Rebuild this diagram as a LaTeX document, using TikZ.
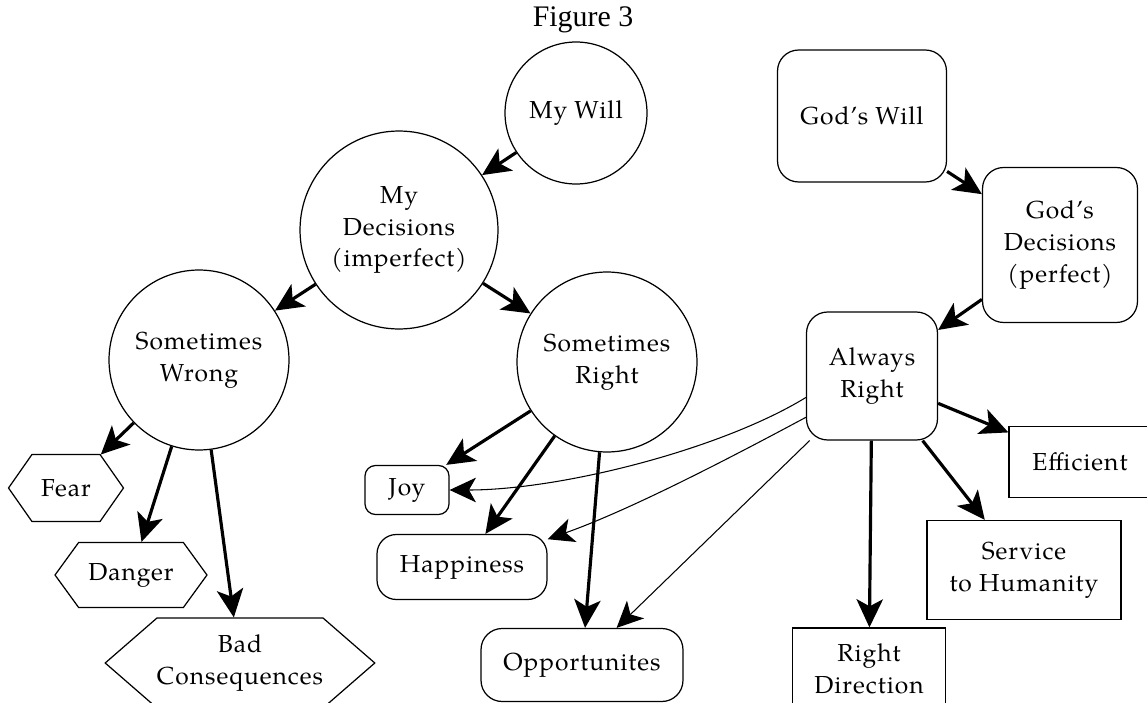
\documentclass[tikz,border=0pt]{standalone}
\usepackage{fontspec}
\setmainfont{TeX Gyre Pagella}[LetterSpace=4]
\newfontfamily\titlefont{Liberation Serif}
\usepackage{tikz}
\usetikzlibrary{arrows.meta, shapes.geometric, shapes.symbols, calc}

\begin{document}
\begin{tikzpicture}[x=0.02cm, y=-0.02cm,
  every node/.style={font=\fontsize{14}{18}\selectfont, align=center},
  wheel/.style={circle, draw, line width=0.7pt, inner sep=0pt},
  roundbox/.style={rectangle, draw, line width=0.7pt, rounded corners=#1, inner sep=0pt},
  roundbox/.default=10pt,
  plainbox/.style={rectangle, draw, line width=0.7pt, inner sep=0pt},
  hexbox/.style={signal, signal to=west and east, signal pointer angle=#1,
    draw, line width=0.7pt, inner sep=0pt},
  boldarrow/.style={-{Stealth[length=16pt, width=15pt, inset=4pt]}, line width=1.8pt},
  lightarrow/.style={-{Stealth[length=15pt, width=14pt, inset=4pt]}, line width=0.6pt}]

  \useasboundingbox (0,0) rectangle (1147,703);

  % Title
  \node[font=\titlefont\fontsize{17}{20}\selectfont] (title) at (583,20) {Figure 3};

  % My side (circles)
  \node[wheel, minimum size=2.84cm] (mywill) at (576,113) {My Will};
  \node[wheel, minimum size=3.96cm] (mydec) at (399,230) {My\\Decisions\\(imperfect)};
  \node[wheel, minimum size=3.6cm] (wrong) at (199,360) {Sometimes\\Wrong};
  \node[wheel, minimum size=3.6cm] (right) at (607,362) {Sometimes\\Right};

  % Consequences of wrong decisions
  \node[hexbox=110, minimum width=2.3cm, minimum height=1.34cm] (fear) at (66,488) {Fear};
  \node[hexbox=108, minimum width=3.04cm, minimum height=1.3cm] (danger) at (131,575) {Danger};
  \node[hexbox=82, minimum width=5.28cm, minimum height=1.8cm] (bad) at (240,663) {Bad\\Consequences};

  % Results of right decisions
  \node[roundbox=6pt, minimum width=1.68cm, minimum height=0.98cm] (joy) at (407,490) {Joy};
  \node[roundbox=11pt, minimum width=3.4cm, minimum height=1.3cm] (happy) at (462,567) {Happiness};
  \node[roundbox=12pt, minimum width=4.04cm, minimum height=1.46cm] (opp) at (582,665) {Opportunites};

  % God's side (boxes)
  \node[roundbox=12pt, minimum width=3.38cm, minimum height=2.64cm] (godwill) at (862,116) {God's Will};
  \node[roundbox=12pt, minimum width=3.1cm, minimum height=3.1cm] (goddec) at (1060,245) {God's\\Decisions\\(perfect)};
  \node[roundbox=12pt, minimum width=2.62cm, minimum height=2.56cm] (always) at (872,376) {Always\\Right};
  \node[plainbox, minimum width=2.84cm, minimum height=1.42cm] (effic) at (1080,462) {Efficient};
  \node[plainbox, minimum width=3.88cm, minimum height=1.98cm] (service) at (1024,570) {Service\\to Humanity};
  \node[plainbox, minimum width=3.06cm, minimum height=1.64cm] (rightdir) at (869,669) {Right\\Direction};

  % Arrows
  \draw[boldarrow] (mywill) -- (mydec);
  \draw[boldarrow] (mydec) -- (wrong);
  \draw[boldarrow] (mydec) -- (right);
  \draw[boldarrow] (wrong) -- (fear);
  \draw[boldarrow] (wrong) -- (danger);
  \draw[boldarrow] (wrong) -- (bad);
  \draw[boldarrow] (right) -- (joy);
  \draw[boldarrow] (right) -- (happy);
  \draw[boldarrow] (right) -- (opp);
  \draw[boldarrow] (godwill) -- (goddec);
  \draw[boldarrow] (goddec) -- (always);
  \draw[boldarrow] (always) -- (effic);
  \draw[boldarrow] (always) -- (service);
  \draw[boldarrow] (always) -- (rightdir);

  % Always right also leads to the good results
  \draw[lightarrow] (always.198) .. controls (720,450) and (560,490) .. (joy.east);
  \draw[lightarrow] (always.212) .. controls (730,458) and (630,510) .. (happy.18);
  \draw[lightarrow] (always.226) -- (opp.47);
\end{tikzpicture}
\end{document}
